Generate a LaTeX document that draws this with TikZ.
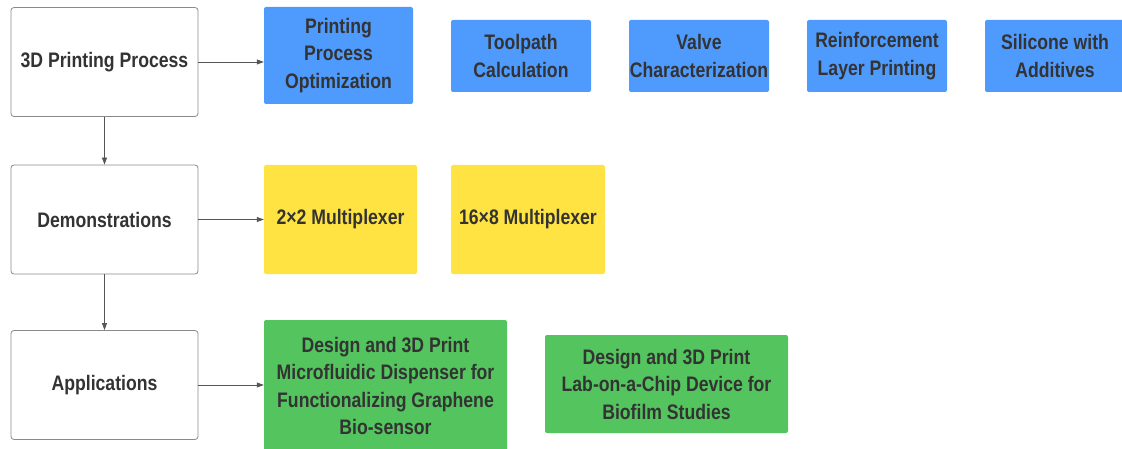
\documentclass[tikz,border=0pt]{standalone}
\usepackage{fontspec}
\setmainfont{Liberation Sans}[FakeStretch=0.84]
\usetikzlibrary{positioning}
\usetikzlibrary{arrows.meta}
\definecolor{stepblue}{HTML}{4F9BFD}
\definecolor{stepyellow}{HTML}{FFE342}
\definecolor{stepgreen}{HTML}{54C45E}
\definecolor{inktext}{HTML}{333333}
\definecolor{framegray}{HTML}{8A8A8A}
\definecolor{linkgray}{HTML}{555555}

\begin{document}
\begin{tikzpicture}[x=1pt,y=-1pt,
    font=\fontsize{21}{27.5}\selectfont\bfseries,
    stage/.style={draw=framegray,line width=0.8pt,rounded corners=3pt,
        fill=white,text=inktext,align=center,inner sep=0pt,
        minimum width=187pt,minimum height=109pt},
    task/.style={rounded corners=2pt,text=inktext,align=center,inner sep=0pt},
    link/.style={draw=linkgray,line width=0.7pt,-{Triangle[length=7pt,width=5pt]}}]
\useasboundingbox (0,0) rectangle (1122,449);
\coordinate (ProcessPosition) at (104.5,62);
\coordinate (DemoPosition) at (104.5,219.5);
\coordinate (AppPosition) at (104.5,385);

\node[stage] (Process) at (ProcessPosition) {3D Printing Process};
\node[stage] (Demo) at (DemoPosition) {Demonstrations};
\node[stage] (App) at (AppPosition) {Applications};

\node[task,fill=stepblue,minimum width=149pt,minimum height=97pt]
    (Optim) at (338.5,55.5) {Printing\\Process\\Optimization};
\node[task,fill=stepblue,minimum width=140pt,minimum height=72pt]
    (Toolpath) at (521,56) {Toolpath\\Calculation};
\node[task,fill=stepblue,minimum width=140pt,minimum height=72pt]
    (Valve) at (699,56) {Valve\\Characterization};
\node[task,fill=stepblue,minimum width=140pt,minimum height=72pt]
    (Reinforce) at (877,56) {Reinforcement\\Layer Printing};
\node[task,fill=stepblue,minimum width=140pt,minimum height=72pt]
    (Silicone) at (1055,56) {Silicone with\\Additives};

\node[task,fill=stepyellow,minimum width=153pt,minimum height=109pt]
    (MuxSmall) at (340.5,219.5) {2×2 Multiplexer};
\node[task,fill=stepyellow,minimum width=154pt,minimum height=109pt]
    (MuxLarge) at (528,219.5) {16×8 Multiplexer};

\node[task,fill=stepgreen,minimum width=243pt,minimum height=132pt]
    (Dispenser) at (385.5,386)
    {Design and 3D Print\\Microfluidic Dispenser for\\Functionalizing Graphene\\Bio-sensor};
\node[task,fill=stepgreen,minimum width=243pt,minimum height=98pt]
    (LabChip) at (666.5,384)
    {Design and 3D Print\\Lab-on-a-Chip Device for\\Biofilm Studies};

\draw[link] (Process.south) -- (Demo.north);
\draw[link] (Demo.south) -- (App.north);
\draw[link] (Process.east) -- (Process.east -| Optim.west);
\draw[link] (Demo.east) -- (Demo.east -| MuxSmall.west);
\draw[link] (App.east) -- (App.east -| Dispenser.west);
\end{tikzpicture}
\end{document}
